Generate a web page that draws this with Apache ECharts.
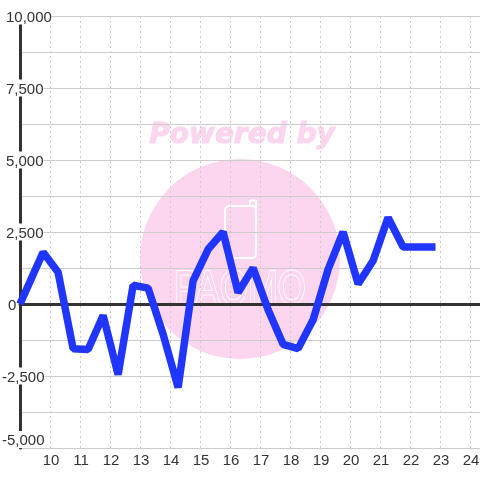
<!DOCTYPE html>
<html><head><meta charset="utf-8">
<style>html,body{margin:0;padding:0;background:#fff}#c{width:480px;height:480px}</style>
<script src="https://cdn.jsdelivr.net/npm/echarts@6/dist/echarts.min.js"></script>
</head><body><div id="c"></div>
<script>
const hours = [9,9.77,10.27,10.77,11.27,11.77,12.27,12.77,13.27,13.77,14.27,14.77,15.27,15.77,16.27,16.77,17.27,17.77,18.27,18.77,19.27,19.77,20.27,20.77,21.27,21.77,22.27,22.85];
const values = [0,1800,1100,-1550,-1580,-400,-2450,650,550,-1050,-2900,800,1900,2500,400,1250,-200,-1400,-1550,-550,1200,2500,700,1500,3000,1980,1980,1980];
const watermarkTitle = 'Powered by';
const logoName = 'PAOMO';

const pink = '#fbd6ee';
const chart = echarts.init(document.getElementById('c'), null, {renderer:'canvas'});
function yLabel(v){
  const s = Math.abs(v).toLocaleString('en-US');
  if (v < 0) return '-' + s;
  return (v === 0 ? '{z|}' : '{p|}') + s;
}
chart.setOption({
  animation:false,
  backgroundColor:'#fff',
  grid:{left:20,right:0,top:16,bottom:32,containLabel:false,outerBoundsMode:'none'},
  graphic:[
    {type:'circle',z:-10,silent:true,shape:{cx:240,cy:259,r:100},style:{fill:pink}},
    {type:'text',z:-9,silent:true,x:242,y:136,style:{text:watermarkTitle,fill:pink,stroke:pink,lineWidth:1,font:'italic bold 28px "DejaVu Sans"',align:'center',verticalAlign:'middle'}},
    {type:'rect',z:-9,silent:true,shape:{x:225,y:206,width:31,height:52,r:4},style:{fill:'none',stroke:'#fff',lineWidth:2}},
    {type:'polyline',z:-9,silent:true,shape:{points:[[250,206],[250,201],[253,200],[256,201],[256,208]]},style:{fill:'none',stroke:'#fff',lineWidth:2}},
    {type:'text',z:-9,silent:true,x:240,y:291,scaleX:0.75,originX:0,originY:0,style:{text:logoName,fill:pink,stroke:'#fff',lineWidth:2,font:'48px "Liberation Sans"',align:'center',verticalAlign:'middle'}}
  ],
  xAxis:[{
    type:'value',min:9,max:24.3333,interval:1,
    axisLine:{onZero:false,show:false},axisTick:{show:false},
    axisLabel:{color:'#333',fontSize:15,fontFamily:'Liberation Sans',margin:5,padding:[0,0,0,2],showMinLabel:false,
      formatter:v=>Number.isInteger(v)?String(v):''},
    splitLine:{show:true,lineStyle:{color:'#ccc',width:1,type:[2,3]}}
  },{
    type:'value',min:9,max:24.3333,interval:1,position:'bottom',
    axisLine:{show:true,onZero:true,lineStyle:{color:'#333',width:3}},
    axisTick:{show:false},axisLabel:{show:false},splitLine:{show:false}
  }],
  yAxis:{
    type:'value',min:-5000,max:10000,interval:2500,
    axisLine:{show:true,lineStyle:{color:'#333',width:3}},axisTick:{show:false},
    splitLine:{show:true,lineStyle:{color:'#ccc',width:1}},
    minorTick:{show:false,splitNumber:2},
    minorSplitLine:{show:true,lineStyle:{color:'#ccc',width:1}},
    axisLabel:{inside:true,align:'left',margin:-18,color:'#333',fontSize:15,fontFamily:'Liberation Sans',
      backgroundColor:'#fff',lineHeight:14,padding:[3,0,0,0],verticalAlignMinLabel:'bottom',
      formatter:yLabel,
      rich:{p:{width:4},z:{width:6}}}
  },
  series:[{
    type:'line',xAxisIndex:0,data:hours.map((h,i)=>[h,values[i]]),showSymbol:false,clip:false,
    lineStyle:{color:'#2036ff',width:7.5,join:'bevel',cap:'butt'},z:5
  }]
});
</script></body></html>
